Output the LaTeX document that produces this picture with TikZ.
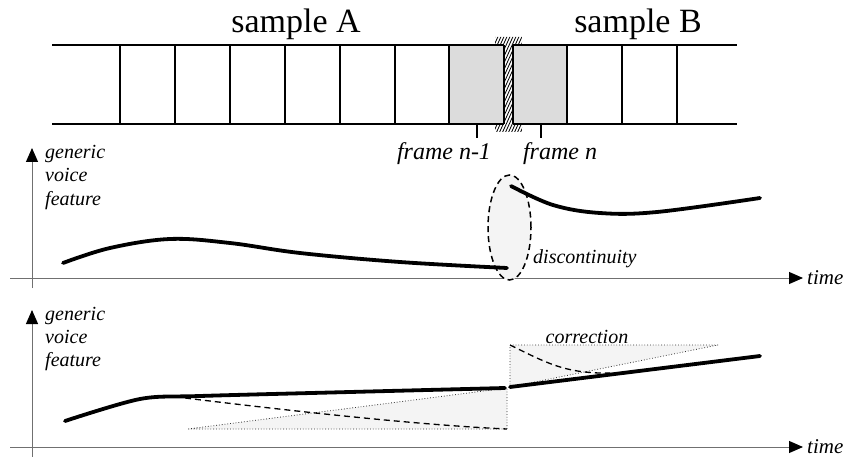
\documentclass[tikz,border=0pt]{standalone}
\usepackage{fontspec}
\setmainfont{Liberation Serif}
\usetikzlibrary{arrows.meta}
\definecolor{boxgray}{HTML}{DCDCDC}
\definecolor{paleFill}{HTML}{F4F4F4}
\definecolor{axisgray}{HTML}{707070}
\begin{document}
\begin{tikzpicture}[x=1pt,y=-1pt,
  strip/.style={line width=1.9pt},
  tickline/.style={line width=1.6pt},
  hatchline/.style={line width=0.8pt},
  feat/.style={line width=3.8pt, line cap=round, line join=round},
  axis/.style={draw=axisgray, line width=1pt, -{Triangle[length=14pt,width=12pt,color=black]}},
  lbl/.style={inner sep=0pt, font=\fontsize{20}{23}\selectfont\itshape},
  framelbl/.style={inner sep=0pt, font=\fontsize{24}{28}\selectfont\itshape},
  samplelbl/.style={inner sep=0pt, font=\fontsize{34}{40}\selectfont},
  tri/.style={fill=paleFill, draw=black!80, line width=0.8pt, dotted},
  corr/.style={line width=1.3pt, dash pattern=on 6pt off 4pt},
]
\useasboundingbox (0,0) rectangle (848,457);
\fill[white] (0,0) rectangle (848,457);

% ---------- frame strip ----------
\fill[boxgray] (449,45) rectangle (504,124);
\fill[boxgray] (513,45) rectangle (567,124);
\begin{scope}
  \clip (504,37) rectangle (513,132) (495,37) rectangle (522,45) (495,124) rectangle (522,132);
  \foreach \x in {492,495,...,578}
    \draw[hatchline] (\x,30) -- ++(-50,110);
\end{scope}
\draw[strip] (52,45) -- (504,45) (513,45) -- (737,45);
\draw[strip] (52,124) -- (504,124) (513,124) -- (737,124);
\foreach \x in {120,175,230,285,340,395,449,504,513,567,622,677}
  \draw[strip] (\x,45) -- (\x,124);

\node[samplelbl, anchor=base] (sampleA) at (296,33) {sample A};
\node[samplelbl, anchor=base] (sampleB) at (638,33) {sample B};

\coordinate (t1a) at (477,124); \coordinate (t1b) at (477,138);
\coordinate (t2a) at (541,124); \coordinate (t2b) at (541,138);
\draw[tickline] (t1a) -- (t1b);
\draw[tickline] (t2a) -- (t2b);
\node[framelbl, anchor=base] (fprev) at (444,160) {frame n-1};
\node[framelbl, anchor=base] (fcur) at (560,160) {frame n};

% ---------- upper graph ----------
\coordinate (y1a) at (32,288); \coordinate (y1b) at (32,148);
\coordinate (x1a) at (10,278); \coordinate (x1b) at (803,278);
\draw[axis] (y1a) -- (y1b);
\draw[axis] (x1a) -- (x1b);
\node[lbl, anchor=base west] (g1) at (45,159) {generic};
\node[lbl, anchor=base west] (v1) at (45,182) {voice};
\node[lbl, anchor=base west] (f1) at (45,205) {feature};
\node[lbl, anchor=base west, font=\fontsize{21}{24}\selectfont\itshape] (time1) at (807,284) {time};

\draw[fill=paleFill, line width=1.5pt, dash pattern=on 6pt off 4pt] (509.5,227.5) ellipse [x radius=21.5pt, y radius=52.5pt];
\node[lbl, anchor=base west] (disc) at (533,263) {discontinuity};

\draw[feat] plot[smooth, tension=0.6] coordinates {(63,263) (110,248) (170,239) (230,243) (300,253) (400,262) (507,268)};
\draw[feat] plot[smooth, tension=0.6] coordinates {(511,186) (553,205) (600,213) (657,212) (760,198)};

% ---------- lower graph ----------
\coordinate (y2a) at (32,457); \coordinate (y2b) at (32,310);
\coordinate (x2a) at (10,447); \coordinate (x2b) at (803,447);
\draw[axis] (y2a) -- (y2b);
\draw[axis] (x2a) -- (x2b);
\node[lbl, anchor=base west] (g2) at (45,320) {generic};
\node[lbl, anchor=base west] (v2) at (45,343) {voice};
\node[lbl, anchor=base west] (f2) at (45,366) {feature};
\node[lbl, anchor=base west, font=\fontsize{21}{24}\selectfont\itshape] (time2) at (807,453) {time};

% correction triangles
\coordinate (la) at (188,429); \coordinate (lb) at (507,429); \coordinate (lc) at (507,388);
\coordinate (ra) at (510,345); \coordinate (rb) at (718,345); \coordinate (rc) at (510,387);
\filldraw[tri] (la) -- (lb) -- (lc) -- cycle;
\filldraw[tri] (ra) -- (rb) -- (rc) -- cycle;
\node[lbl, anchor=base] (corrlbl) at (587,343) {correction};

\draw[corr] (185,398) .. controls (300,412) and (420,425) .. (lb);
\draw[corr] (ra) .. controls (545,362) and (565,374) .. (610,373);

\draw[feat] plot[smooth, tension=0.5] coordinates {(65,421) (140,399) (200,396) (350,392) (505,388)};
\draw[feat] (rc) -- (760,356);
\end{tikzpicture}
\end{document}
